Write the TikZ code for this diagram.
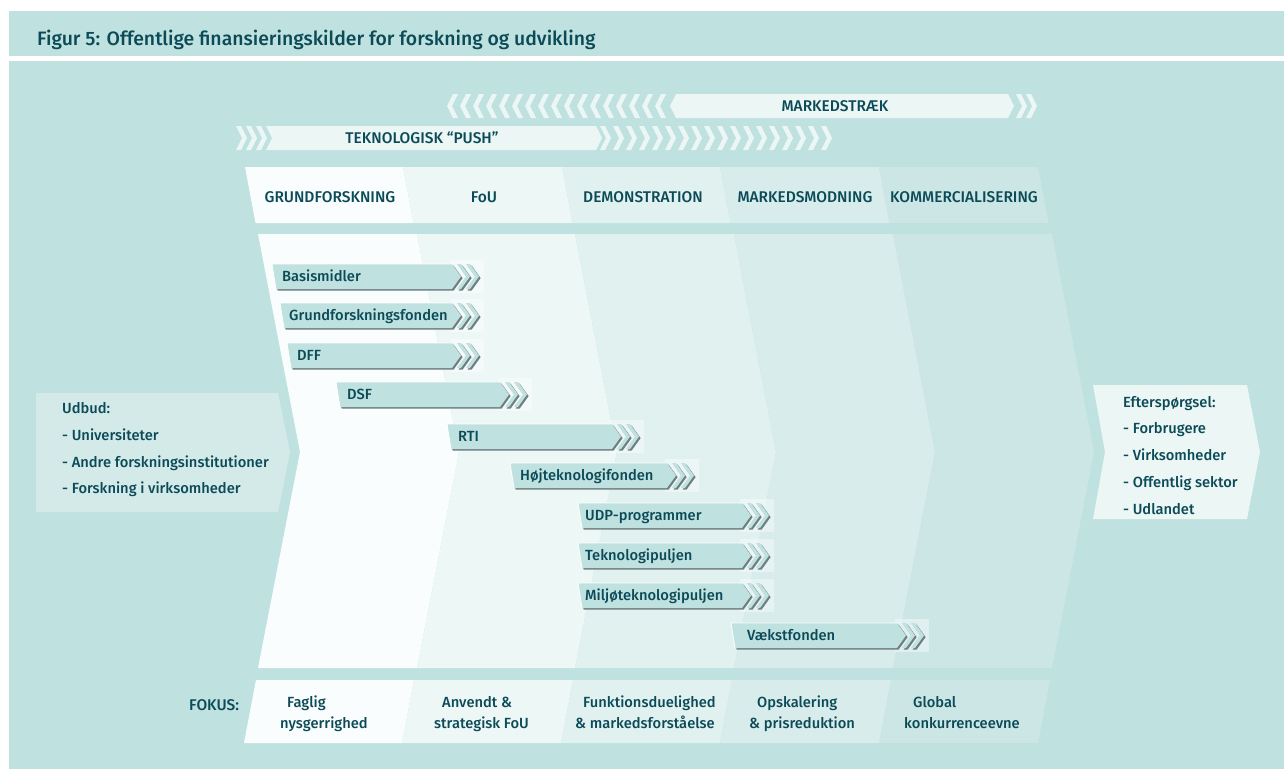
\documentclass[tikz,border=0pt]{standalone}
\usepackage{fontspec}
\setmainfont{Fira Sans}[BoldFont={Fira Sans Medium}]
\usetikzlibrary{calc}
\definecolor{bg}{HTML}{BFE1E0}
\definecolor{ink}{HTML}{0B4A57}
\definecolor{c1}{HTML}{FAFDFD}
\definecolor{c2}{HTML}{EDF7F6}
\definecolor{c3}{HTML}{E1F1F0}
\definecolor{c4}{HTML}{D7ECEB}
\definecolor{c5}{HTML}{CCE6E5}
\definecolor{band}{HTML}{EBF6F5}
\definecolor{udbud}{HTML}{D3EAE9}
\definecolor{barfill}{HTML}{BFE1E0}
\definecolor{barshadow}{HTML}{6F7F80}
\newcommand\fundbar[6]{%
  \fill[white,opacity=.4] ({#4-2},{#3-4}) rectangle ({#4+32},{#3+29});
  \foreach \dd/\cc in {1.6/barshadow,0/barfill}{%
    \fill[\cc, shift={(\dd,\dd)}] (#2,#3) -- (#4,#3) -- ({#4+9},{#3+12.5}) -- (#4,{#3+25}) -- ({#2+4},{#3+25}) -- cycle;
    \foreach \cx in {5,14}{%
      \fill[\cc, shift={(\dd,\dd)}] ({#4+\cx},#3) -- ++(4,0) -- ++(9,12.5) -- ++(-9,12.5) -- ++(-4,0) -- ++(9,-12.5) -- cycle;}
  }
  \draw[white,line width=0.8] ({#2+4},{#3+25}) -- (#2,#3) -- (#4,#3);
  \node[barlbl] (#1) at (#5,{#3+17}) {#6};
}
\begin{document}
\begin{tikzpicture}[x=1pt,y=-1pt,
  every node/.style={text=ink,inner sep=0pt},
  txt/.style={font=\bfseries\fontsize{14.7}{17}\selectfont},
  caps/.style={font=\bfseries\fontsize{15.5}{18}\selectfont},
  barlbl/.style={txt,anchor=base west},
  hdr/.style={caps,anchor=base},
  listlbl/.style={txt,anchor=base west},
  titlelbl/.style={font=\bfseries\fontsize{19.4}{22}\selectfont,anchor=base west}]
\useasboundingbox (0,0) rectangle (1284,769);
\fill[white] (0,0) rectangle (1284,769);
% title band and background
\fill[bg] (9,11) rectangle (1284,56);
\fill[bg] (9,61) rectangle (1284,769);
\node[titlelbl] (title) at (37,45) {Figur 5: Offentlige finansieringskilder for forskning og udvikling};
% MARKEDSTRAEK band
\foreach \i in {0,...,16}{%
  \fill[band] ({447+13*\i},106) -- ++(6,-12) -- ++(5,0) -- ++(-6,12) -- ++(6,12) -- ++(-5,0) -- cycle;}
\fill[band] (670,106) -- (676,94) -- (1008,94) -- (1014,106) -- (1008,118) -- (676,118) -- cycle;
\foreach \x in {1016,1026}{%
  \fill[band] (\x,94) -- ++(5,0) -- ++(6,12) -- ++(-6,12) -- ++(-5,0) -- ++(6,-12) -- cycle;}
\node[hdr] (markedstraek) at (835,111.5) {MARKEDSTRÆK};
% PUSH band
\foreach \x in {236,246,256}{%
  \fill[band] (\x,126) -- ++(5,0) -- ++(6,12) -- ++(-6,12) -- ++(-5,0) -- ++(6,-12) -- cycle;}
\fill[band] (266,126) -- (596,126) -- (602,138) -- (596,150) -- (266,150) -- (272,138) -- cycle;
\foreach \i in {0,...,17}{%
  \fill[band] ({600+13*\i},126) -- ++(5,0) -- ++(6,12) -- ++(-6,12) -- ++(-5,0) -- ++(6,-12) -- cycle;}
\node[hdr] (push) at (422,143.5) {TEKNOLOGISK “PUSH”};
% header row
\foreach \a/\b/\cc in {245/403/c1,403/562/c2,562/720/c3,720/879/c4,879/1038/c5}{%
  \fill[\cc] (\a,167) -- (\b,167) -- ({\b+10.5},223) -- ({\a+10.5},223) -- cycle;}
\node[hdr] (h1) at (330,202.5) {GRUNDFORSKNING};
\node[hdr] (h2) at (484,202.5) {FoU};
\node[hdr] (h3) at (643,202.5) {DEMONSTRATION};
\node[hdr] (h4) at (805,202.5) {MARKEDSMODNING};
\node[hdr] (h5) at (964,202.5) {KOMMERCIALISERING};
% main chevron panel
\foreach \a/\b/\cc in {258/417/c1,417/575/c2,575/734/c3,734/893/c4,893/1052/c5}{%
  \fill[\cc] (\a,234) -- (\b,234) -- ({\b+42},452) -- (\b,668) -- (\a,668) -- ({\a+42},452) -- cycle;}
% supply box
\fill[udbud] (36,393) -- (278,393) -- (290,452) -- (278,512) -- (36,512) -- cycle;
\node[listlbl] (u0) at (62,413) {Udbud:};
\node[listlbl] (u1) at (62,440) {- Universiteter};
\node[listlbl] (u2) at (62,467) {- Andre forskningsinstitutioner};
\node[listlbl] (u3) at (62,493) {- Forskning i virksomheder};
% demand box
\fill[band] (1093,385) -- (1247,385) -- (1260,452) -- (1247,519) -- (1093,519) -- (1105,452) -- cycle;
\node[listlbl] (e0) at (1123,407) {Efterspørgsel:};
\node[listlbl] (e1) at (1123,433) {- Forbrugere};
\node[listlbl] (e2) at (1123,460) {- Virksomheder};
\node[listlbl] (e3) at (1123,487) {- Offentlig sektor};
\node[listlbl] (e4) at (1123,514) {- Udlandet};
% funding bars
\fundbar{b1}{272}{264}{452}{282}{Basismidler}
\fundbar{b2}{280}{303}{452}{289}{Grundforskningsfonden}
\fundbar{b3}{287}{343}{452}{297}{DFF}
\fundbar{b4}{336}{382}{500}{347}{DSF}
\fundbar{b5}{447}{424}{612}{458}{RTI}
\fundbar{b6}{510}{463}{667}{520}{Højteknologifonden}
\fundbar{b7}{578}{503}{742}{585}{UDP-programmer}
\fundbar{b8}{578}{543}{742}{585}{Teknologipuljen}
\fundbar{b9}{578}{583}{742}{585}{Miljøteknologipuljen}
\fundbar{b10}{731}{623}{897}{747}{Vækstfonden}
% focus row
\foreach \a/\b/\cc in {256/414/c1,414/573/c2,573/732/c3,732/891/c4,891/1050/c5}{%
  \fill[\cc] (\a,680) -- (\b,680) -- ({\b-12},743) -- ({\a-12},743) -- cycle;}
\node[listlbl,caps] (fokus) at (189,710.5) {FOKUS:};
\node[listlbl] (f1a) at (287,707) {Faglig};
\node[listlbl] (f1b) at (280,728) {nysgerrighed};
\node[listlbl] (f2a) at (442,707) {Anvendt \&};
\node[listlbl] (f2b) at (434,728) {strategisk FoU};
\node[listlbl] (f3a) at (583,707) {Funktionsduelighed};
\node[listlbl] (f3b) at (575,728) {\& markedsforståelse};
\node[listlbl] (f4a) at (757,707) {Opskalering};
\node[listlbl] (f4b) at (749,728) {\& prisreduktion};
\node[listlbl] (f5a) at (913,707) {Global};
\node[listlbl] (f5b) at (904,728) {konkurrenceevne};
\end{tikzpicture}
\end{document}
